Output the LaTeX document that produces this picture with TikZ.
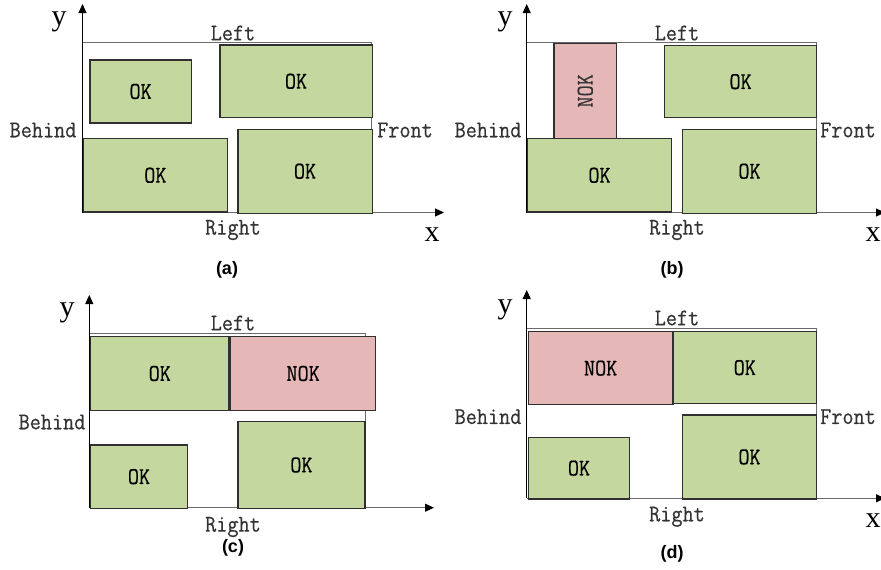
\documentclass[tikz,border=0pt]{standalone}
\usepackage{fontspec}
\usetikzlibrary{arrows.meta}
\newfontfamily\capfont{Liberation Sans}
\newfontfamily\axfont{Liberation Serif}
\newfontfamily\lblfont{Latin Modern Mono}[FakeStretch=0.9, FakeBold=0.5]
\definecolor{okfill}{HTML}{C4D79F}
\definecolor{nokfill}{HTML}{E5B8B7}
\definecolor{edge}{HTML}{303030}
\definecolor{bound}{HTML}{6A6A6A}
\tikzset{
  tip/.style={-{Triangle[length=9pt,width=8pt,color=black,fill=black]}},
  axis/.style={draw=bound, line width=1.1pt, tip},
  yaxis/.style={draw=black, line width=0.9pt, tip},
  boundline/.style={draw=bound, line width=1pt},
  box/.style={draw=edge, line width=1.3pt, rectangle, inner sep=0pt, anchor=north west,
    font=\lblfont\fontsize{24}{24}\selectfont},
  okbox/.style={box, fill=okfill},
  nokbox/.style={box, fill=nokfill},
  lbl/.style={font=\lblfont\fontsize{24}{24}\selectfont, inner sep=0pt, text=black!80},
  axlbl/.style={font=\axfont\fontsize{30}{30}\selectfont, inner sep=0pt},
  caption/.style={font=\capfont\bfseries\fontsize{18}{18}\selectfont, inner sep=0pt}
}
\newcommand{\bx}[6]{\node[#1, minimum width=#4pt, minimum height=#5pt] (#2) at (#3) {#6};}
\begin{document}
\begin{tikzpicture}[x=1pt, y=-1pt]
\useasboundingbox (0,0) rectangle (881,570);

% ---------------- panel (a) ----------------
\coordinate (aO) at (82.5,212.5);
\coordinate (aY) at (82.5,4);
\coordinate (aX) at (444,212.5);
\coordinate (aTL) at (82.5,42.7);
\coordinate (aTR) at (371.5,42.7);
\coordinate (aBR) at (371.5,212.5);
\draw[boundline] (aTL) -- (aTR) -- (aBR);
\draw[axis] (aO) -- (aX);
\draw[yaxis] (aO) -- (aY);
\bx{okbox}{a1}{89.3,59.3}{101.4}{63}{OK}
\bx{okbox}{a2}{219.3,44.3}{152.2}{72.7}{OK}
\bx{okbox}{a3}{82.5,138}{144.5}{73.3}{OK}
\bx{okbox}{a4}{237.3,128.7}{134.2}{83.8}{OK}
\node[axlbl] (ay) at (59,22) {y};
\node[lbl] (aleft) at (233,33) {Left};
\node[lbl] (abehind) at (43,130) {Behind};
\node[lbl] (afront) at (405,130) {Front};
\node[lbl] (aright) at (233,230) {Right};
\node[axlbl] (ax) at (432,235) {x};
\node[caption] (acap) at (227,270) {(a)};

% ---------------- panel (b) ----------------
\coordinate (bO) at (526.7,212.5);
\coordinate (bY) at (526.7,4);
\coordinate (bX) at (885,212.5);
\coordinate (bTL) at (526.7,42.7);
\coordinate (bTR) at (816,42.7);
\coordinate (bBR) at (816,212.5);
\draw[boundline] (bTL) -- (bTR) -- (bBR);
\draw[axis] (bO) -- (bX);
\draw[yaxis] (bO) -- (bY);
\bx{nokbox}{b1}{553.3,42.7}{62.7}{95}{}
\node[lbl, rotate=90] (b1t) at (b1.center) {NOK};
\bx{okbox}{b2}{664,45}{152}{72}{OK}
\bx{okbox}{b3}{526.7,138}{144.3}{73.3}{OK}
\bx{okbox}{b4}{681.7,128.7}{134.3}{83.8}{OK}
\node[axlbl] (by) at (505,22) {y};
\node[lbl] (bleft) at (677,33) {Left};
\node[lbl] (bbehind) at (488,130) {Behind};
\node[lbl] (bfront) at (848,130) {Front};
\node[lbl] (bright) at (677,230) {Right};
\node[axlbl] (bx) at (873,235) {x};
\node[caption] (bcap) at (672,270) {(b)};

% ---------------- panel (c) ----------------
\coordinate (cO) at (89.3,507.7);
\coordinate (cY) at (89.3,295);
\coordinate (cX) at (434,507.7);
\coordinate (cTL) at (89.3,333.3);
\coordinate (cTR) at (365,333.3);
\coordinate (cBR) at (365,507.7);
\draw[boundline] (cTL) -- (cTR) -- (cBR);
\draw[axis] (cO) -- (cX);
\draw[yaxis] (cO) -- (cY);
\bx{okbox}{c1}{90,335.7}{138.3}{74.3}{OK}
\bx{nokbox}{c2}{230,335.7}{145}{74.3}{NOK}
\bx{okbox}{c3}{90,444.3}{96.7}{63.4}{OK}
\bx{okbox}{c4}{237.3,421}{127}{86.7}{OK}
\node[axlbl] (cy) at (67,313) {y};
\node[lbl] (cleft) at (233,323) {Left};
\node[lbl] (cbehind) at (52,422) {Behind};
\node[lbl] (cright) at (233,527) {Right};
\node[caption] (ccap) at (233,548) {(c)};

% ---------------- panel (d) ----------------
\coordinate (dO) at (526.7,498.3);
\coordinate (dY) at (526.7,290);
\coordinate (dX) at (885,498.3);
\coordinate (dTL) at (526.7,328.7);
\coordinate (dTR) at (816,328.7);
\coordinate (dBR) at (816,498.3);
\draw[boundline] (dTL) -- (dTR) -- (dBR);
\draw[axis] (dO) -- (dX);
\draw[yaxis] (dO) -- (dY);
\bx{nokbox}{d1}{527.7,331}{144.6}{73}{NOK}
\bx{okbox}{d2}{672.3,331}{143.7}{72}{OK}
\bx{okbox}{d3}{527.7,436.7}{101.3}{61.6}{OK}
\bx{okbox}{d4}{681.7,414.3}{134.3}{84}{OK}
\node[axlbl] (dy) at (505,310) {y};
\node[lbl] (dleft) at (677,318) {Left};
\node[lbl] (dbehind) at (488,416.7) {Behind};
\node[lbl] (dfront) at (848,416.7) {Front};
\node[lbl] (dright) at (677,516.7) {Right};
\node[axlbl] (dx) at (873,521) {x};
\node[caption] (dcap) at (672,554) {(d)};
\end{tikzpicture}
\end{document}
